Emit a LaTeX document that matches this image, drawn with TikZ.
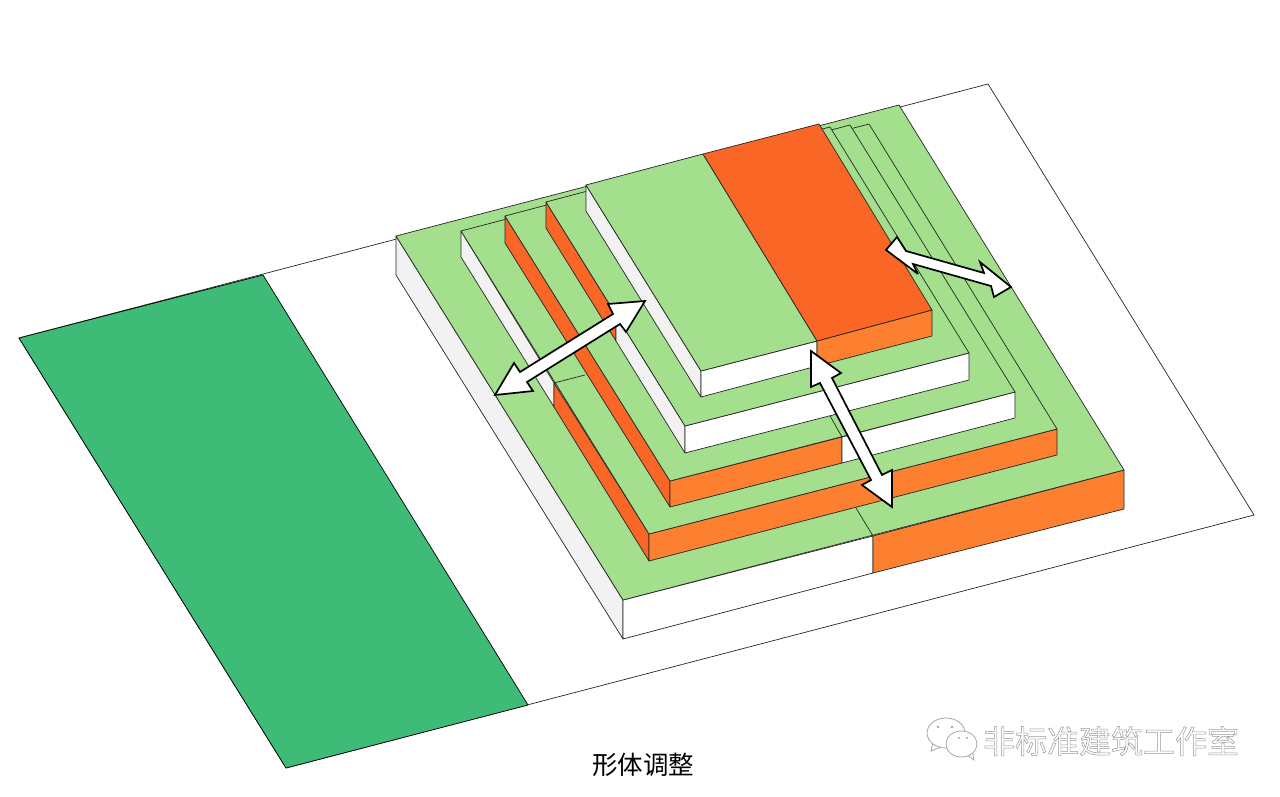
\documentclass[tikz,border=0pt]{standalone}
\usepackage{fontspec}
\newfontfamily\cjk{Noto Sans CJK SC}
\definecolor{roofgreen}{HTML}{A3DF8C}
\definecolor{stripgreen}{HTML}{3FBB78}
\definecolor{sideorange}{HTML}{F96625}
\definecolor{frontorange}{HTML}{FD8030}
\definecolor{sidegray}{HTML}{F2F2F2}
\tikzset{
	edge/.style={draw=black!85, line width=0.7pt, line join=round},
	roof/.style={edge, fill=roofgreen},
	roofhot/.style={edge, fill=sideorange},
	sidehot/.style={edge, fill=sideorange},
	fronthot/.style={edge, fill=frontorange},
	sidepale/.style={edge, fill=sidegray},
	frontpale/.style={edge, fill=white},
	movearrow/.style={draw=black, line width=1.7pt, fill=white, miter limit=4},
	bubble/.style={draw=black!35, line width=0.8pt, fill=white},
	eye/.style={fill=black!35}
}
\begin{document}
\begin{tikzpicture}[x=1pt,y=-1pt]
	\useasboundingbox[fill=white] (0,0) rectangle (1280,797);

	\draw[edge, fill=white] (19,338) -- (988,84) -- (1254,515) -- (286,768) -- cycle;
	\draw[edge, draw=black, fill=stripgreen] (19,338) -- (263,275) -- (528,705) -- (286,768) -- cycle;

	\draw[sidepale] (396,236) -- (623,600) -- (623,639) -- (396,275) -- cycle;
	\draw[frontpale] (623,600) -- (873,536) -- (873,573) -- (623,639) -- cycle;
	\draw[fronthot] (873,536) -- (1124,470) -- (1124,509) -- (873,573) -- cycle;
	\draw[roof] (396,236) -- (899,105) -- (1124,470) -- (623,600) -- cycle;
	\draw[edge] (873,536) -- (856,508);

	\draw[sidepale] (461,231) -- (554,383) -- (554,407) -- (461,257) -- cycle;
	\draw[sidehot] (554,383) -- (649,534) -- (649,561) -- (554,407) -- cycle;
	\draw[fronthot] (649,534) -- (1057,429) -- (1057,455) -- (649,561) -- cycle;
	\draw[roof] (461,231) -- (869,124) -- (1057,429) -- (649,534) -- cycle;
	\draw[edge] (554,383) -- (585,375);

	\draw[sidehot] (505,216) -- (670,481) -- (670,507) -- (505,243) -- cycle;
	\draw[fronthot] (670,481) -- (842,437) -- (842,463) -- (670,507) -- cycle;
	\draw[frontpale] (842,437) -- (1015,392) -- (1015,418) -- (842,463) -- cycle;
	\draw[roof] (505,216) -- (850,125) -- (1015,392) -- (670,481) -- cycle;
	\draw[edge] (842,437) -- (829,414);

	\draw[sidehot] (546,202) -- (616,315) -- (616,341) -- (546,228) -- cycle;
	\draw[sidepale] (616,315) -- (685,426) -- (685,453) -- (616,341) -- cycle;
	\draw[frontpale] (685,426) -- (969,353) -- (969,380) -- (685,453) -- cycle;
	\draw[roof] (546,202) -- (830,127) -- (969,353) -- (685,426) -- cycle;

	\draw[sidepale] (586,185) -- (701,371) -- (701,397) -- (586,211) -- cycle;
	\draw[frontpale] (701,371) -- (817,341) -- (817,366) -- (701,397) -- cycle;
	\draw[fronthot] (817,341) -- (932,310) -- (932,336) -- (817,366) -- cycle;
	\draw[roof] (586,185) -- (703,154) -- (817,341) -- (701,371) -- cycle;
	\draw[roofhot] (703,154) -- (819,124) -- (932,310) -- (817,341) -- cycle;

	\draw[movearrow] (495,395) -- (514,363) -- (520,372) -- (613,314) -- (608,304) -- (645,301)
		-- (626,332) -- (620,324) -- (527,382) -- (533,391) -- cycle;
	\draw[movearrow] (886,250) -- (897,237) -- (906,251) -- (984,273) -- (980,262) -- (1011,287)
		-- (994,297) -- (991,286) -- (913,264) -- (918,274) -- cycle;
	\draw[movearrow] (811,351) -- (841,373) -- (832,378) -- (882,475) -- (892,470) -- (892,507)
		-- (862,485) -- (871,480) -- (820,383) -- (811,387) -- cycle;

	\node[font=\cjk\fontsize{25.5}{28}\selectfont] (title) at (643,765) {形体调整};

	\draw[bubble] (933,742) -- (931,751) -- (941,747) -- cycle;
	\draw[bubble] (946,733) ellipse (19 and 15);
	\fill[eye] (938,727) circle (1.3);
	\fill[eye] (952,727) circle (1.3);
	\draw[bubble] (966,754) -- (974,760) -- (972,750) -- cycle;
	\draw[bubble] (961.5,744) ellipse (15.5 and 13);
	\fill[eye] (959,738) circle (1.1);
	\fill[eye] (967,738) circle (1.1);
	\node[font=\cjk\fontsize{32}{36}\selectfont, text=black!30] (mark) at (1111,741)
		{\special{pdf:code 1 Tr 0.5 w 0.6 G}非标准建筑工作室\special{pdf:code 0 Tr}};
\end{tikzpicture}
\end{document}
